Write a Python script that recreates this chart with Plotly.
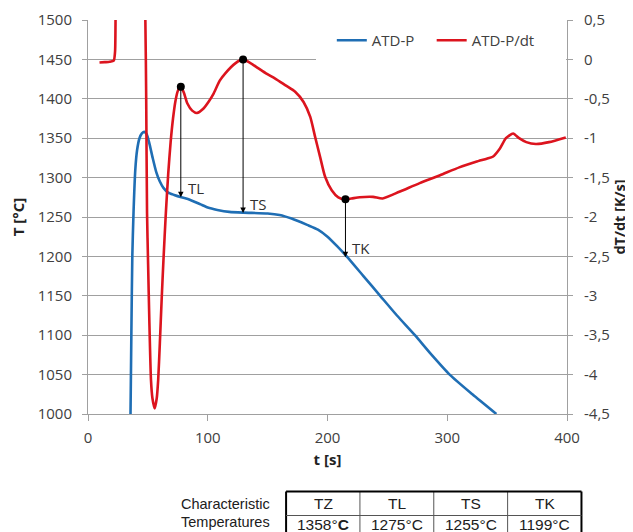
import numpy as np
import plotly.graph_objects as go

# ---------------- data ----------------
t_temp = [35.5, 36.2, 37, 38, 39.5, 41, 43, 45, 47, 49, 51, 54, 57, 60, 63, 67, 72, 78, 85, 94,
          100, 108, 118, 130, 150, 160, 170, 183, 192, 200, 208, 216, 230, 244, 258, 273, 287,
          302, 321, 341]
temp = [1000, 1100, 1200, 1255, 1310, 1335, 1350, 1356, 1358, 1355, 1345, 1325, 1307, 1295,
        1287, 1281, 1278, 1275, 1272, 1266, 1262, 1259, 1256.5, 1255.5, 1254.5, 1252.5, 1248,
        1240, 1234, 1225, 1213, 1200, 1175, 1150, 1125, 1100, 1075, 1050, 1025, 1000]

t_rate = [9.6, 14, 18, 21.5, 22.6, 23.0, 23.5, 30, 40, 46.5, 47.9, 48.6, 49.3, 50.2, 51.2, 52.6,
          53.8, 55.7, 57.4, 58.6, 60, 61.5, 63, 65, 67, 69, 71, 73, 75, 77.5, 80, 83, 87, 91,
          96, 101, 105, 110, 115, 123, 129.5, 135, 142, 149, 156, 165, 173, 180, 185.6, 189.6,
          193.7, 198, 203.5, 209, 214.6, 220, 227, 238, 246, 260, 277, 294, 310, 324, 333, 338,
          344, 349, 355, 360, 366, 374, 385, 399]
rate = [-0.04, -0.035, -0.03, -0.015, 0.1, 0.5, 1.2, 3.0, 3.0, 1.2, 0.5, -0.5, -1.95, -2.6,
        -3.3, -4.07, -4.3, -4.43, -4.3, -4.07, -3.6, -3.05, -2.55, -1.95, -1.45, -1.05, -0.75,
        -0.53, -0.4, -0.346, -0.42, -0.56, -0.65, -0.68, -0.63, -0.53, -0.43, -0.27, -0.17,
        -0.05, 0.0, -0.04, -0.11, -0.18, -0.24, -0.33, -0.41, -0.54, -0.73, -0.98, -1.23, -1.49,
        -1.66, -1.75, -1.775, -1.765, -1.75, -1.745, -1.765, -1.68, -1.57, -1.47, -1.37, -1.30,
        -1.26, -1.235, -1.13, -1.0, -0.94, -1.0, -1.05, -1.074, -1.05, -0.99]

char_names = ["TZ", "TL", "TS", "TK"]
char_temps = [1358, 1275, 1255, 1199]
char_times = [47, 77.5, 129.5, 215]
arrow_names = ["TL", "TS", "TK"]

y_ticks = [1000, 1050, 1100, 1150, 1200, 1250, 1300, 1350, 1400, 1450, 1500]
y2_tickvals = [0.5, 0, -0.5, -1, -1.5, -2, -2.5, -3, -3.5, -4, -4.5]
y2_ticktext = ["0,5", "0", "-0,5", "-1", "-1,5", "-2", "-2,5", "-3", "-3,5", "-4", "-4,5"]
x_ticks = [0, 100, 200, 300, 400]

y_range = [1000, 1500]
y2_range = [-4.5, 0.5]

BLUE = "#1F6EB4"
RED = "#DC141E"
GRID = "#A0A0A0"
TXT = "#404040"
FONT = "Open Sans"

fig = go.Figure()
fig.add_trace(go.Scatter(x=t_temp, y=temp, name="ATD-P", mode="lines", legend="legend",
                         line=dict(color=BLUE, width=2.6, shape="spline", smoothing=0.6)))
fig.add_trace(go.Scatter(x=t_rate, y=rate, name="ATD-P/dt", mode="lines", yaxis="y2",
                         legend="legend2",
                         line=dict(color=RED, width=2.6, shape="spline", smoothing=0.6)))

# characteristic points
arrow_times = [char_times[char_names.index(n)] for n in arrow_names]
arrow_temps = [char_temps[char_names.index(n)] for n in arrow_names]
dot_rates = list(np.interp(arrow_times, t_rate, rate))
fig.add_trace(go.Scatter(x=arrow_times, y=dot_rates, yaxis="y2", mode="markers",
                         marker=dict(color="black", size=8), showlegend=False,
                         hoverinfo="skip"))


def y2_to_y(v):
    return y_range[0] + (v - y2_range[0]) * (y_range[1] - y_range[0]) / (y2_range[1] - y2_range[0])


for name, tt, tv, rv in zip(arrow_names, arrow_times, arrow_temps, dot_rates):
    fig.add_annotation(x=tt, y=tv, xref="x", yref="y", ax=tt, ay=y2_to_y(rv),
                       axref="x", ayref="y", text="", showarrow=True, arrowhead=2,
                       arrowsize=1.1, arrowwidth=1, arrowcolor="black", standoff=0)
    fig.add_annotation(x=tt, y=tv, xref="x", yref="y", text=name, showarrow=False,
                       xanchor="left", yanchor="middle", xshift=5, yshift=9,
                       font=dict(family=FONT, size=15, color="#303030"))

# cover the gridline behind the legend
fig.add_shape(type="rect", xref="paper", yref="paper", x0=0.476, x1=0.998,
              y0=0.88, y1=0.915, fillcolor="white", line=dict(width=0), layer="above")

# ---------------- table below the chart ----------------
PLOT_H = 394.0
def py(pix):
    return (414.0 - pix) / PLOT_H
def px(pix):
    return (pix - 87.5) / 480.0

col_edges = [286, 360, 434, 508, 582]
row_top, row_mid, row_bot = 491.5, 515.5, 545
for i, xe in enumerate(col_edges):
    outer = i in (0, len(col_edges) - 1)
    fig.add_shape(type="line", xref="paper", yref="paper", x0=px(xe), x1=px(xe),
                  y0=py(row_top), y1=py(row_bot),
                  line=dict(color="black" if outer else "#555555", width=2 if outer else 1))
fig.add_shape(type="line", xref="paper", yref="paper", x0=px(col_edges[0]), x1=px(col_edges[-1]),
              y0=py(row_top), y1=py(row_top), line=dict(color="black", width=2))
fig.add_shape(type="line", xref="paper", yref="paper", x0=px(col_edges[0]), x1=px(col_edges[-1]),
              y0=py(row_mid), y1=py(row_mid), line=dict(color="#555555", width=1))

TFONT = dict(family="Liberation Sans", size=15.5, color="#202020")
for i, (n, v) in enumerate(zip(char_names, char_temps)):
    xc = px((col_edges[i] + col_edges[i + 1]) / 2)
    fig.add_annotation(x=xc, y=py(503.5), xref="paper", yref="paper", text=n,
                       showarrow=False, xanchor="center", yanchor="middle", font=TFONT)
    vtxt = f"{v}°<b>C</b>" if i == 0 else f"{v}°C"
    fig.add_annotation(x=xc, y=py(524.5), xref="paper", yref="paper", text=vtxt,
                       showarrow=False, xanchor="center", yanchor="middle", font=TFONT)
LFONT = dict(family="Liberation Sans", size=14.5, color="#202020")
fig.add_annotation(x=px(271.5), y=py(504), xref="paper", yref="paper", text="Characteristic",
                   showarrow=False, xanchor="right", yanchor="middle", font=LFONT)
fig.add_annotation(x=px(271.5), y=py(522), xref="paper", yref="paper", text="Temperatures",
                   showarrow=False, xanchor="right", yanchor="middle", font=LFONT)

# page body has an 8px margin: shift the figure so the plot lands where the reference has it
OFF = 8
LEG = dict(orientation="h", y=0.99, xanchor="left", yanchor="top",
           bgcolor="rgba(255,255,255,0)", font=dict(family=FONT, size=15, color=TXT))
fig.update_layout(
    width=633 - OFF, height=532 - OFF,
    margin=dict(l=87.5 - OFF, r=65.5, t=20 - OFF, b=118, autoexpand=False),
    paper_bgcolor="white", plot_bgcolor="white",
    font=dict(family=FONT, size=15, color=TXT),
    legend=dict(LEG, x=0.509),
    legend2=dict(LEG, x=0.7175),
    xaxis=dict(range=[0, 400], tickvals=x_ticks, showgrid=False, showline=True, automargin=False,
               linecolor=GRID, linewidth=1, ticks="outside", ticklen=6, tickcolor=GRID,
               ticklabelstandoff=4,
               zeroline=False, title=dict(text="<b>t [s]</b>", standoff=8,
                                          font=dict(family=FONT, size=15, color="#222222"))),
    yaxis=dict(range=y_range, tickvals=y_ticks, showgrid=True, gridcolor=GRID, gridwidth=1,
               showline=True, linecolor=GRID, ticks="outside", ticklen=5, tickcolor=GRID,
               ticklabelstandoff=7, automargin=False,
               zeroline=False, title=dict(text="<b>T [°C]</b>", standoff=10,
                                          font=dict(family=FONT, size=15, color="#222222"))),
    yaxis2=dict(range=y2_range, tickvals=y2_tickvals, ticktext=y2_ticktext, overlaying="y",
                side="right", showgrid=False, showline=True, linecolor=GRID, ticks="outside",
                ticklen=5, tickcolor=GRID, zeroline=False, ticklabelstandoff=8, automargin=False,
                title=dict(text="<b>dT/dt [K/s]</b>", standoff=0,
                           font=dict(family=FONT, size=14.5, color="#222222"))),
)

fig.write_html("out.html")
